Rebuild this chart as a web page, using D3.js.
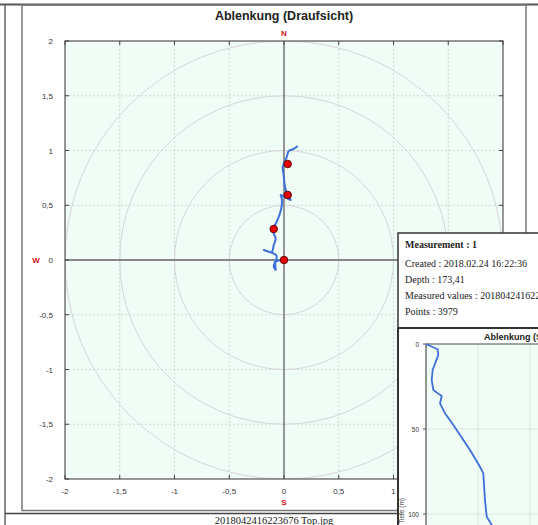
<!DOCTYPE html>
<html>
<head>
<meta charset="utf-8">
<script src="https://cdn.jsdelivr.net/npm/d3@7"></script>
<style>
  body { margin: 0; background: #fff; }
  svg { display: block; }
</style>
</head>
<body>
<svg id="Chart" width="538" height="525"></svg>
<script>
// top view: east / north deviation (m)
const gridTicks = [-2, -1.5, -1, -0.5, 0, 0.5, 1, 1.5, 2];
const ringRadii = [0.5, 1, 1.5, 2];
const pathEast  = [0, -0.076, -0.076, -0.094, -0.067, -0.185, -0.112, -0.094, -0.076, -0.103, -0.067, -0.039, -0.021, -0.021, -0.03, 0.061, 0.025, 0.006, -0.003, -0.012, 0.025, 0.043, 0.089, 0.125];
const pathNorth = [0, -0.018, -0.091, -0.055, 0.037, 0.091, 0.073, 0.137, 0.192, 0.274, 0.347, 0.42, 0.493, 0.566, 0.594, 0.548, 0.612, 0.685, 0.776, 0.849, 0.941, 0.995, 1.014, 1.041];
const markerEast  = [0, -0.094, 0.034, 0.034];
const markerNorth = [0, 0.283, 0.594, 0.877];

// side view: depth (m) vs deviation
const sideDepth  = [0, 3.1, 6.5, 15.3, 21.2, 27.1, 30.6, 34.9, 40.8, 47.6, 53.5, 62.4, 72.2, 76.1, 91.8, 101.6, 106.5, 115];
const sideOffset = [0, 0.112, 0.118, 0.064, 0.055, 0.07, 0.151, 0.135, 0.183, 0.263, 0.327, 0.423, 0.519, 0.551, 0.567, 0.584, 0.632, 0.68];
const sideDepthTicks = [0, 50, 100];
const sideOffsetTicks = [0, 0.5, 1];

const infoTitle = 'Measurement : 1';
const infoLines = ['Created : 2018.02.24 16:22:36', 'Depth : 173,41', 'Measured values : 2018042416223676', 'Points : 3979'];
const caption = '2018042416223676  Top.jpg';

const svg = d3.select('#Chart');
const fmt = v => d3.format('~g')(v).replace('.', ',').replace('−', '-');

// page frame
svg.append('line').attr('x1', 0).attr('x2', 538).attr('y1', 4.5).attr('y2', 4.5).attr('stroke', '#555').attr('stroke-width', 2);
svg.append('line').attr('x1', 5).attr('x2', 5).attr('y1', 4).attr('y2', 525).attr('stroke', '#666').attr('stroke-width', 1.5);
svg.append('rect').attr('x', 22).attr('y', 5).attr('width', 504).attr('height', 505.5)
  .attr('fill', 'none').attr('stroke', '#777').attr('stroke-width', 1.5);
svg.append('line').attr('x1', 5).attr('x2', 538).attr('y1', 513.5).attr('y2', 513.5).attr('stroke', '#444').attr('stroke-width', 1.5);
svg.append('text').attr('x', 274).attr('y', 524).attr('text-anchor', 'middle')
  .style('font-family', '"Liberation Serif", serif').style('font-size', '10.5px').style('fill', '#222')
  .text(caption);

// main chart
const x = d3.scaleLinear().domain([-2, 2]).range([65, 503]);
const y = d3.scaleLinear().domain([-2, 2]).range([479, 41]);

svg.append('text').attr('x', 284).attr('y', 20).attr('text-anchor', 'middle')
  .style('font-family', '"Liberation Sans", Arial, sans-serif').style('font-weight', 'bold')
  .style('font-size', '12.5px').style('fill', '#222').text('Ablenkung (Draufsicht)');

svg.append('clipPath').attr('id', 'plotClip').append('rect')
  .attr('x', x(-2)).attr('y', y(2)).attr('width', x(2) - x(-2)).attr('height', y(-2) - y(2));

svg.append('rect').attr('x', x(-2)).attr('y', y(2)).attr('width', x(2) - x(-2)).attr('height', y(-2) - y(2))
  .attr('fill', '#f0fcf6');

const plot = svg.append('g').attr('clip-path', 'url(#plotClip)');

plot.selectAll('.vgrid').data(gridTicks).enter().append('line')
  .attr('x1', d => x(d)).attr('x2', d => x(d)).attr('y1', y(2)).attr('y2', y(-2))
  .attr('stroke', '#c8cfcc').attr('stroke-width', 0.8).attr('stroke-dasharray', '2,2');
plot.selectAll('.hgrid').data(gridTicks).enter().append('line')
  .attr('x1', x(-2)).attr('x2', x(2)).attr('y1', d => y(d)).attr('y2', d => y(d))
  .attr('stroke', '#c8cfcc').attr('stroke-width', 0.8).attr('stroke-dasharray', '2,2');

plot.selectAll('.ring').data(ringRadii).enter().append('circle')
  .attr('cx', x(0)).attr('cy', y(0)).attr('r', d => x(d) - x(0))
  .attr('fill', 'none').attr('stroke', '#d6d6d6').attr('stroke-width', 1);

plot.append('line').attr('x1', x(-2)).attr('x2', x(2)).attr('y1', y(0)).attr('y2', y(0)).attr('stroke', '#666').attr('stroke-width', 1.3);
plot.append('line').attr('x1', x(0)).attr('x2', x(0)).attr('y1', y(2)).attr('y2', y(-2)).attr('stroke', '#666').attr('stroke-width', 1.3);

const topPath = pathEast.map((e, i) => [e, pathNorth[i]]);
plot.append('path').datum(topPath)
  .attr('d', d3.line().x(d => x(d[0])).y(d => y(d[1])).curve(d3.curveCatmullRom))
  .attr('fill', 'none').attr('stroke', '#3f6fd9').attr('stroke-width', 2);

plot.selectAll('.dot').data(markerEast.map((e, i) => [e, markerNorth[i]])).enter().append('circle')
  .attr('cx', d => x(d[0])).attr('cy', d => y(d[1])).attr('r', 3.8)
  .attr('fill', '#e80000').attr('stroke', '#400').attr('stroke-width', 0.8);

svg.append('rect').attr('x', x(-2)).attr('y', y(2)).attr('width', x(2) - x(-2)).attr('height', y(-2) - y(2))
  .attr('fill', 'none').attr('stroke', '#555').attr('stroke-width', 1.2);

// small tick marks
svg.selectAll('.tt').data(gridTicks).enter().append('line')
  .attr('x1', d => x(d)).attr('x2', d => x(d)).attr('y1', y(2)).attr('y2', y(2) + 4).attr('stroke', '#444');
svg.selectAll('.tb').data(gridTicks).enter().append('line')
  .attr('x1', d => x(d)).attr('x2', d => x(d)).attr('y1', y(-2)).attr('y2', y(-2) - 4).attr('stroke', '#444');
svg.selectAll('.tl').data(gridTicks).enter().append('line')
  .attr('x1', x(-2)).attr('x2', x(-2) + 4).attr('y1', d => y(d)).attr('y2', d => y(d)).attr('stroke', '#444');
svg.selectAll('.tr').data(gridTicks).enter().append('line')
  .attr('x1', x(2)).attr('x2', x(2) - 4).attr('y1', d => y(d)).attr('y2', d => y(d)).attr('stroke', '#444');

const tickFont = g => g.style('font-family', '"Liberation Sans", Arial, sans-serif').style('font-size', '8px').style('fill', '#333');

svg.selectAll('.yl').data(gridTicks).enter().append('text')
  .attr('x', 53).attr('y', d => y(d) + 3).attr('text-anchor', 'end').text(fmt).call(tickFont);
svg.selectAll('.xl').data(gridTicks).enter().append('text')
  .attr('x', d => x(d)).attr('y', 494).attr('text-anchor', 'middle').text(fmt).call(tickFont);

const compass = [['N', x(0), 36], ['S', x(0), 505], ['W', 36, y(0) + 3]];
svg.selectAll('.cmp').data(compass).enter().append('text')
  .attr('x', d => d[1]).attr('y', d => d[2]).attr('text-anchor', 'middle').text(d => d[0])
  .style('font-family', '"Liberation Sans", Arial, sans-serif').style('font-size', '8px')
  .style('font-weight', 'bold').style('fill', '#e01010');

// info box
const info = svg.append('g');
info.append('rect').attr('x', 398).attr('y', 233).attr('width', 160).attr('height', 95)
  .attr('fill', '#fff').attr('stroke', '#333').attr('stroke-width', 1.5);
const serif = g => g.style('font-family', '"Liberation Serif", "Times New Roman", serif').style('font-size', '10px').style('fill', '#222');
info.append('text').attr('x', 405).attr('y', 248).text(infoTitle).call(serif).style('font-weight', 'bold');
info.selectAll('.il').data(infoLines).enter().append('text')
  .attr('x', 405).attr('y', (d, i) => 267 + i * 16).text(d => d).call(serif);

// side view inset
const inset = svg.append('g');
inset.append('rect').attr('x', 398).attr('y', 328).attr('width', 160).attr('height', 210)
  .attr('fill', '#fff').attr('stroke', '#333').attr('stroke-width', 2);
inset.append('text').attr('x', 484).attr('y', 340).text('Ablenkung (Seitenansicht)')
  .style('font-family', '"Liberation Sans", Arial, sans-serif').style('font-weight', 'bold')
  .style('font-size', '9px').style('fill', '#222');

const xs = d3.scaleLinear().domain([0, 1]).range([426, 530]);
const ys = d3.scaleLinear().domain([0, 100]).range([344, 514]);

inset.append('rect').attr('x', xs(0)).attr('y', ys(0)).attr('width', 200).attr('height', 200).attr('fill', '#f0fcf6');
inset.selectAll('.sv').data(sideOffsetTicks).enter().append('line')
  .attr('x1', d => xs(d)).attr('x2', d => xs(d)).attr('y1', ys(0)).attr('y2', 525)
  .attr('stroke', '#d4e4dc').attr('stroke-width', 0.8);
inset.selectAll('.sh').data(sideDepthTicks).enter().append('line')
  .attr('x1', xs(0)).attr('x2', 538).attr('y1', d => ys(d)).attr('y2', d => ys(d))
  .attr('stroke', '#d4e4dc').attr('stroke-width', 0.8);
inset.append('line').attr('x1', xs(0)).attr('x2', xs(0)).attr('y1', ys(0)).attr('y2', 525).attr('stroke', '#555').attr('stroke-width', 1.2);
inset.append('line').attr('x1', xs(0)).attr('x2', 538).attr('y1', ys(0)).attr('y2', ys(0)).attr('stroke', '#555').attr('stroke-width', 1);
inset.selectAll('.st').data(sideDepthTicks).enter().append('line')
  .attr('x1', xs(0) - 3).attr('x2', xs(0)).attr('y1', d => ys(d)).attr('y2', d => ys(d)).attr('stroke', '#555');
inset.selectAll('.sl').data(sideDepthTicks).enter().append('text')
  .attr('x', 419).attr('y', d => ys(d) + 2.5).attr('text-anchor', 'end').text(d => d)
  .style('font-family', '"Liberation Sans", Arial, sans-serif').style('font-size', '6.5px').style('fill', '#333');
inset.append('text').attr('transform', 'translate(404,498) rotate(-90)').attr('text-anchor', 'end')
  .text('Tiefe (m)')
  .style('font-family', '"Liberation Sans", Arial, sans-serif').style('font-size', '6.5px').style('fill', '#333');

inset.append('path').datum(sideDepth.map((dp, i) => [sideOffset[i], dp]))
  .attr('d', d3.line().x(d => xs(d[0])).y(d => ys(d[1])))
  .attr('fill', 'none').attr('stroke', '#3f6fd9').attr('stroke-width', 1.8);
</script>
</body>
</html>
